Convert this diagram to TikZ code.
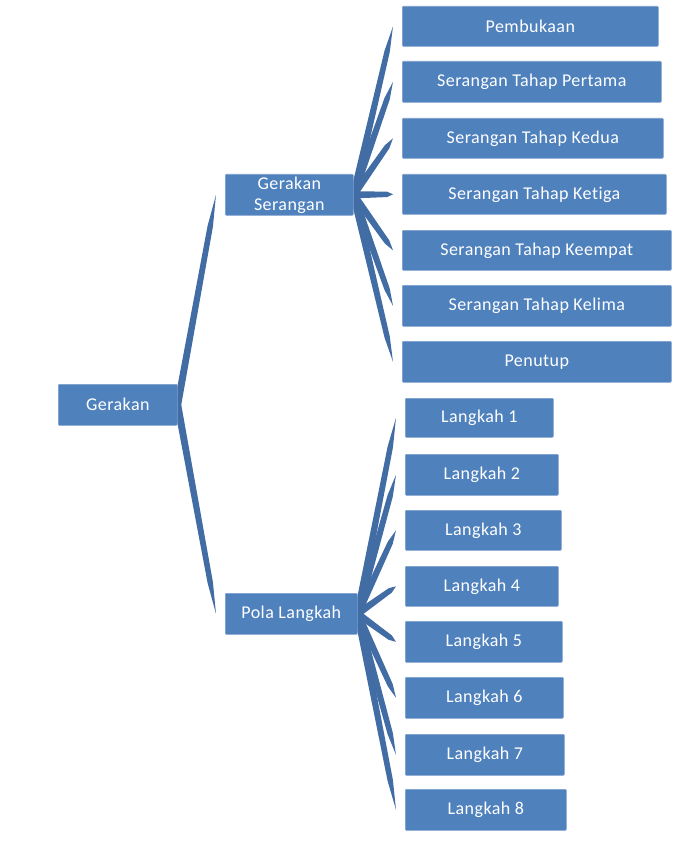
\documentclass[tikz,border=0pt]{standalone}
\usepackage{fontspec}
\setmainfont{Carlito}[LetterSpace=2.5,Ligatures=NoCommon]
\usetikzlibrary{calc,backgrounds}
\definecolor{boxblue}{RGB}{79,129,189}
\definecolor{boxedge}{RGB}{125,160,206}
\definecolor{linkblue}{RGB}{66,108,164}
\tikzset{
  box/.style={draw=boxedge, line width=0.6pt, fill=boxblue, text=white,
    rounded corners=1pt, anchor=north west, inner sep=0pt, align=center,
    font=\fontsize{18}{21}\selectfont},
  link/.style={fill=linkblue}
}

\begin{document}
\begin{tikzpicture}[x=1pt,y=-1pt]
  \useasboundingbox (0,0) rectangle (686,842);

  % tapered spoke from parent (east side) to a point just left of the child
  \newcommand\taper[2]{%
    \coordinate (#2-tip) at ($(#2.west)+(-9,0)$);
    \fill[link] ($(#1.east)!3.6pt!90:(#2-tip)$)
      -- ($(#1.east)!0.85!(#2-tip)!2.7pt!90:(#2-tip)$)
      -- (#2-tip)
      -- ($(#1.east)!0.85!(#2-tip)!2.7pt!-90:(#2-tip)$)
      -- ($(#1.east)!3.6pt!-90:(#2-tip)$) -- cycle;}

  % root and the two branches
  \node[box, minimum width=119pt, minimum height=41pt] (gerakan) at (58,384) {Gerakan};
  \node[box, minimum width=128pt, minimum height=41pt] (serangan) at (225,174) {Gerakan\\Serangan};
  \node[box, minimum width=132pt, minimum height=41pt] (pola) at (225,593) {Pola Langkah};

  % attack stages
  \node[box, minimum width=256pt, minimum height=40pt] (buka) at (402,6) {Pembukaan};
  \node[box, minimum width=259pt, minimum height=41pt] (tahap1) at (402,61) {Serangan Tahap Pertama};
  \node[box, minimum width=261pt, minimum height=40pt] (tahap2) at (402,118) {Serangan Tahap Kedua};
  \node[box, minimum width=264pt, minimum height=40pt] (tahap3) at (402,174) {Serangan Tahap Ketiga};
  \node[box, minimum width=269pt, minimum height=40pt] (tahap4) at (402,230) {Serangan Tahap Keempat};
  \node[box, minimum width=269pt, minimum height=41pt] (tahap5) at (402,285) {Serangan Tahap Kelima};
  \node[box, minimum width=269pt, minimum height=41pt] (tutup) at (402,341) {Penutup};

  % steps
  \node[box, minimum width=148pt, minimum height=39pt] (lk1) at (405,398) {Langkah 1};
  \node[box, minimum width=153pt, minimum height=41pt] (lk2) at (405,454) {Langkah 2};
  \node[box, minimum width=156pt, minimum height=40pt] (lk3) at (405,510) {Langkah 3};
  \node[box, minimum width=153pt, minimum height=40pt] (lk4) at (405,566) {Langkah 4};
  \node[box, minimum width=157pt, minimum height=41pt] (lk5) at (405,621) {Langkah 5};
  \node[box, minimum width=158pt, minimum height=41pt] (lk6) at (405,677) {Langkah 6};
  \node[box, minimum width=159pt, minimum height=41pt] (lk7) at (405,734) {Langkah 7};
  \node[box, minimum width=161pt, minimum height=41pt] (lk8) at (405,789) {Langkah 8};

  \begin{scope}[on background layer]
    \taper{gerakan}{serangan}
    \taper{gerakan}{pola}

    \taper{serangan}{buka}
    \taper{serangan}{tahap1}
    \taper{serangan}{tahap2}
    \taper{serangan}{tahap3}
    \taper{serangan}{tahap4}
    \taper{serangan}{tahap5}
    \taper{serangan}{tutup}

    \taper{pola}{lk1}
    \taper{pola}{lk2}
    \taper{pola}{lk3}
    \taper{pola}{lk4}
    \taper{pola}{lk5}
    \taper{pola}{lk6}
    \taper{pola}{lk7}
    \taper{pola}{lk8}
  \end{scope}

\end{tikzpicture}
\end{document}
